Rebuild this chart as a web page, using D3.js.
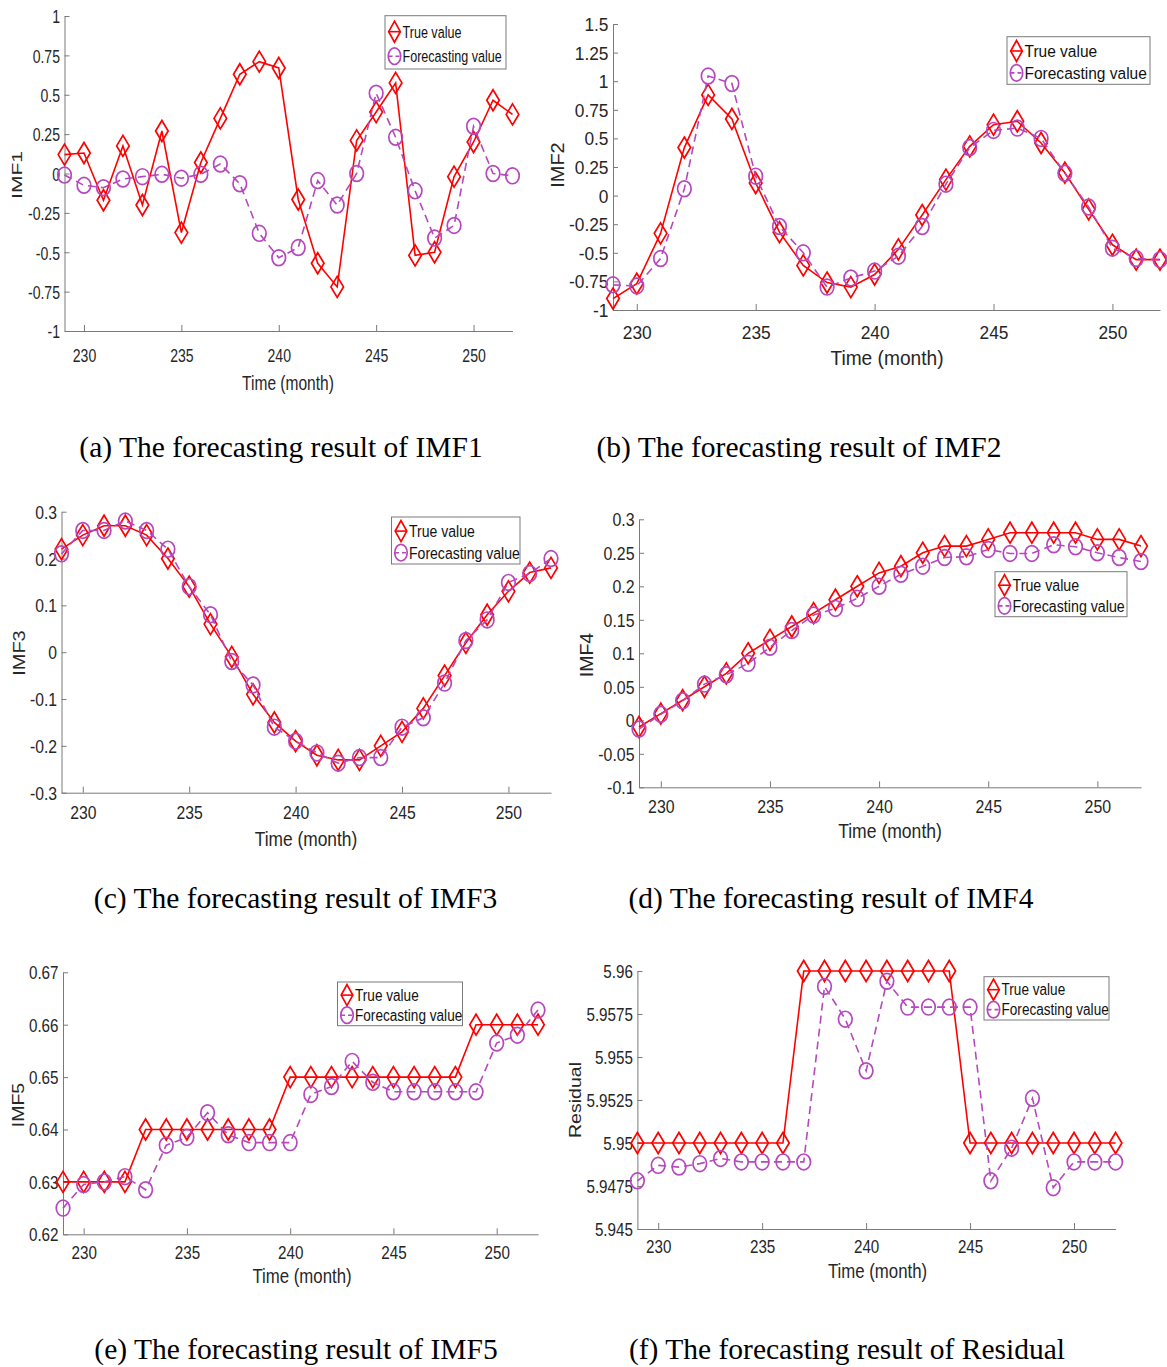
<!DOCTYPE html>
<html><head><meta charset="utf-8">
<script src="https://cdn.jsdelivr.net/npm/d3@7/dist/d3.min.js"></script>
<style>body{margin:0;background:#fff}svg{display:block}</style>
</head><body>
<svg id="chart" width="1167" height="1367"></svg>
<script>
// ---------------- DATA ----------------
const months = [229,230,231,232,233,234,235,236,237,238,239,240,241,242,243,244,245,246,247,248,249,250,251,252];
const xTicks = [230,235,240,245,250];
const xTickLabels = ["230","235","240","245","250"];
const legendLabels = ["True value","Forecasting value"];
const yLabels = ["IMF1","IMF2","IMF3","IMF4","IMF5","Residual"];
const captions = [
  "(a) The forecasting result of IMF1",
  "(b) The forecasting result of IMF2",
  "(c) The forecasting result of IMF3",
  "(d) The forecasting result of IMF4",
  "(e) The forecasting result of IMF5",
  "(f) The forecasting result of Residual"
];

const imf1True = [0.12,0.13,-0.17,0.175,-0.2,0.27,-0.375,0.07,0.35,0.63,0.71,0.67,-0.165,-0.57,-0.72,0.21,0.39,0.575,-0.52,-0.5,-0.02,0.2,0.465,0.375];
const imf1Forecast = [-0.01,-0.075,-0.09,-0.035,-0.02,-0.005,-0.03,-0.005,0.06,-0.065,-0.38,-0.535,-0.47,-0.045,-0.2,0.0,0.51,0.23,-0.11,-0.41,-0.33,0.3,0.0,-0.015];
const imf1Ticks = [1,0.75,0.5,0.25,0,-0.25,-0.5,-0.75,-1];
const imf1TickLabels = ["1","0.75","0.5","0.25","0","-0.25","-0.5","-0.75","-1"];

const imf2True = [-0.9,-0.77,-0.33,0.42,0.88,0.67,0.11,-0.32,-0.61,-0.76,-0.8,-0.69,-0.47,-0.17,0.14,0.43,0.62,0.65,0.46,0.2,-0.12,-0.43,-0.56,-0.56];
const imf2Forecast = [-0.78,-0.79,-0.55,0.06,1.045,0.98,0.17,-0.27,-0.5,-0.8,-0.72,-0.66,-0.53,-0.27,0.1,0.42,0.57,0.59,0.5,0.195,-0.1,-0.46,-0.55,-0.56];
const imf2Ticks = [1.5,1.25,1,0.75,0.5,0.25,0,-0.25,-0.5,-0.75,-1];
const imf2TickLabels = ["1.5","1.25","1","0.75","0.5","0.25","0","-0.25","-0.5","-0.75","-1"];

const imf3True = [0.22,0.25,0.27,0.27,0.25,0.2,0.14,0.06,-0.01,-0.09,-0.15,-0.19,-0.22,-0.23,-0.23,-0.2,-0.17,-0.12,-0.05,0.02,0.08,0.13,0.17,0.18];
const imf3Forecast = [0.21,0.26,0.26,0.28,0.26,0.22,0.14,0.08,-0.02,-0.07,-0.16,-0.19,-0.215,-0.237,-0.225,-0.225,-0.16,-0.14,-0.066,0.025,0.069,0.149,0.168,0.2];
const imf3Ticks = [0.3,0.2,0.1,0,-0.1,-0.2,-0.3];
const imf3TickLabels = ["0.3","0.2","0.1","0","-0.1","-0.2","-0.3"];

const imf4True = [-0.01,0.01,0.03,0.05,0.07,0.1,0.12,0.14,0.16,0.18,0.2,0.22,0.23,0.25,0.26,0.26,0.27,0.28,0.28,0.28,0.28,0.27,0.27,0.26];
const imf4Forecast = [-0.013,0.009,0.029,0.054,0.068,0.085,0.109,0.134,0.157,0.167,0.182,0.2,0.218,0.23,0.243,0.244,0.255,0.249,0.249,0.262,0.259,0.25,0.243,0.237];
const imf4Ticks = [0.3,0.25,0.2,0.15,0.1,0.05,0,-0.05,-0.1];
const imf4TickLabels = ["0.3","0.25","0.2","0.15","0.1","0.05","0","-0.05","-0.1"];

const imf5True = [0.63,0.63,0.63,0.63,0.64,0.64,0.64,0.64,0.64,0.64,0.64,0.65,0.65,0.65,0.65,0.65,0.65,0.65,0.65,0.65,0.66,0.66,0.66,0.66];
const imf5Forecast = [0.625,0.6295,0.63,0.631,0.6285,0.637,0.6385,0.6432,0.639,0.6375,0.6375,0.6375,0.6467,0.6482,0.653,0.649,0.6472,0.6472,0.6472,0.6472,0.6472,0.6565,0.658,0.6628];
const imf5Ticks = [0.67,0.66,0.65,0.64,0.63,0.62];
const imf5TickLabels = ["0.67","0.66","0.65","0.64","0.63","0.62"];

const resTrue = [5.95,5.95,5.95,5.95,5.95,5.95,5.95,5.95,5.96,5.96,5.96,5.96,5.96,5.96,5.96,5.96,5.95,5.95,5.95,5.95,5.95,5.95,5.95,5.95];
const resForecast = [5.9478,5.9487,5.9486,5.9488,5.9491,5.9489,5.9489,5.9489,5.9489,5.9591,5.9572,5.9542,5.9594,5.9579,5.9579,5.9579,5.9579,5.9478,5.9497,5.9526,5.9474,5.9489,5.9489,5.9489];
const resTicks = [5.96,5.9575,5.955,5.9525,5.95,5.9475,5.945];
const resTickLabels = ["5.96","5.9575","5.955","5.9525","5.95","5.9475","5.945"];

// ---------------- LAYOUT ----------------
const panels = [
  {t:imf1True,f:imf1Forecast,ticks:imf1Ticks,labels:imf1TickLabels,dom:[-1,1],
   x0:64.5,x1:512.5,yTop:16,yBot:331,sx:0.74,fs:1.0,yLab:[16.5,175],xLab:[288,390],tickDy:30.6,leg:[385,15.7,121,53.3],cap:[281,457]},
  {t:imf2True,f:imf2Forecast,ticks:imf2Ticks,labels:imf2TickLabels,dom:[-1,1.5],
   x0:613,x1:1160,yTop:24,yBot:310,sx:0.96,fs:0.95,yLab:[557,165],xLab:[887,365],tickDy:28.6,leg:[1007,36.7,143,47.6],cap:[799,457]},
  {t:imf3True,f:imf3Forecast,ticks:imf3Ticks,labels:imf3TickLabels,dom:[-0.3,0.3],
   x0:61.5,x1:551,yTop:511.7,yBot:792.7,sx:0.87,fs:0.95,yLab:[19,653],xLab:[306,846],tickDy:26.6,leg:[391.5,517,128.5,47],cap:[295.5,908]},
  {t:imf4True,f:imf4Forecast,ticks:imf4Ticks,labels:imf4TickLabels,dom:[-0.1,0.3],
   x0:639,x1:1141,yTop:519.3,yBot:787.3,sx:0.9,fs:0.93,yLab:[587,655],xLab:[890,838.3],tickDy:26,leg:[995,571.7,132,45],cap:[831,908]},
  {t:imf5True,f:imf5Forecast,ticks:imf5Ticks,labels:imf5TickLabels,dom:[0.62,0.67],
   x0:63,x1:538,yTop:972.3,yBot:1234.3,sx:0.86,fs:0.93,yLab:[18,1105],xLab:[302,1283.3],tickDy:25,leg:[337.5,982,125,43.7],cap:[296,1359]},
  {t:resTrue,f:resForecast,ticks:resTicks,labels:resTickLabels,dom:[5.945,5.96],
   x0:637.4,x1:1115.6,yTop:971,yBot:1229,sx:0.86,fs:0.93,yLab:[575,1100],xLab:[877.5,1277.7],tickDy:24.3,leg:[984,976.7,125,43.3],cap:[847,1359]}
];

const RED = "#ff0000", PURPLE = "#b648be", AXIS = "#7a7a7a", TXT = "#262626";
const SANS = "'Liberation Sans', Arial, sans-serif";
const SERIF = "'Liberation Serif', 'Times New Roman', serif";
const DW = 6.3, DH = 10.5, CRX = 6.8, CRY = 7.9;
const diamond = (w,h) => `M0,${-h}L${w},0L0,${h}L${-w},0Z`;

const svg = d3.select("#chart");

panels.forEach((p, i) => {
  const g = svg.append("g");
  const x = d3.scaleLinear().domain([229, 252]).range([p.x0, p.x1]);
  const y = d3.scaleLinear().domain(p.dom).range([p.yBot, p.yTop]);
  const tickFs = 19 * p.fs, labFs = 21 * p.fs, legFs = 17 * p.fs;

  const ya = g.append("g").attr("transform", `translate(${p.x0},0)`)
    .call(d3.axisLeft(y).tickValues(p.ticks).tickFormat((d, k) => p.labels[k])
      .tickSizeInner(-5).tickSizeOuter(0));
  const xa = g.append("g").attr("transform", `translate(0,${p.yBot})`)
    .call(d3.axisBottom(x).tickValues(xTicks).tickFormat((d, k) => xTickLabels[k])
      .tickSizeInner(-6).tickSizeOuter(0));
  [ya, xa].forEach(a => {
    a.select(".domain").attr("stroke", AXIS).attr("stroke-width", 1);
    a.selectAll(".tick line").attr("stroke", AXIS).attr("stroke-width", 1);
    a.selectAll(".tick text").attr("fill", TXT).attr("font-family", SANS)
      .attr("font-size", tickFs);
  });
  ya.selectAll(".tick text").attr("x", -4.5 / p.sx).attr("dy", "0.36em")
    .attr("transform", `scale(${p.sx},1)`);
  xa.selectAll(".tick text").attr("y", p.tickDy).attr("dy", 0)
    .attr("transform", `scale(${p.sx},1)`);

  g.append("text").text("Time (month)")
    .attr("transform", `translate(${p.xLab[0]},${p.xLab[1]}) scale(${p.sx},1)`)
    .attr("text-anchor", "middle").attr("font-family", SANS).attr("font-size", labFs).attr("fill", TXT);
  g.append("text").text(yLabels[i])
    .attr("transform", `translate(${p.yLab[0]},${p.yLab[1]}) scale(${p.sx},1) rotate(-90)`)
    .attr("text-anchor", "middle").attr("dy", "0.36em")
    .attr("font-family", SANS).attr("font-size", labFs).attr("fill", TXT);

  const line = d3.line().x((d, k) => x(months[k])).y(d => y(d));
  g.append("path").datum(p.t).attr("d", line).attr("fill", "none")
    .attr("stroke", RED).attr("stroke-width", 1.6);
  g.selectAll(".dm").data(p.t).enter().append("path")
    .attr("transform", (d, k) => `translate(${x(months[k])},${y(d)})`)
    .attr("d", diamond(DW, DH)).attr("fill", "none").attr("stroke", RED).attr("stroke-width", 1.7);
  g.append("path").datum(p.f).attr("d", line).attr("fill", "none")
    .attr("stroke", PURPLE).attr("stroke-width", 1.6).attr("stroke-dasharray", "8,5");
  g.selectAll(".cm").data(p.f).enter().append("ellipse")
    .attr("cx", (d, k) => x(months[k])).attr("cy", d => y(d))
    .attr("rx", CRX).attr("ry", CRY).attr("fill", "none").attr("stroke", PURPLE).attr("stroke-width", 1.7);

  const [lx, ly, lw, lh] = p.leg;
  const lg = g.append("g");
  lg.append("rect").attr("x", lx).attr("y", ly).attr("width", lw).attr("height", lh)
    .attr("fill", "#fff").attr("stroke", AXIS).attr("stroke-width", 1);
  const rows = [ly + lh * 0.3, ly + lh * 0.76];
  const mx = lx + 9.5;
  lg.append("line").attr("x1", mx - 6).attr("x2", mx + 6).attr("y1", rows[0]).attr("y2", rows[0])
    .attr("stroke", RED).attr("stroke-width", 1.6);
  lg.append("path").attr("transform", `translate(${mx},${rows[0]})`).attr("d", diamond(DW - 0.5, DH))
    .attr("fill", "none").attr("stroke", RED).attr("stroke-width", 1.7);
  lg.append("line").attr("x1", mx - 6).attr("x2", mx + 6).attr("y1", rows[1]).attr("y2", rows[1])
    .attr("stroke", PURPLE).attr("stroke-width", 1.6).attr("stroke-dasharray", "4,3");
  lg.append("ellipse").attr("cx", mx).attr("cy", rows[1]).attr("rx", CRX - 0.6).attr("ry", CRY + 0.4)
    .attr("fill", "none").attr("stroke", PURPLE).attr("stroke-width", 1.7);
  legendLabels.forEach((lab, k) => {
    lg.append("text").text(lab)
      .attr("transform", `translate(${lx + 17.5},${rows[k]}) scale(${p.sx},1)`)
      .attr("dy", "0.36em").attr("font-family", SANS).attr("font-size", legFs).attr("fill", "#111");
  });

  svg.append("text").text(captions[i]).attr("x", p.cap[0]).attr("y", p.cap[1])
    .attr("text-anchor", "middle").attr("font-family", SERIF).attr("font-size", 29.5).attr("fill", "#000");
});
</script>
</body></html>
